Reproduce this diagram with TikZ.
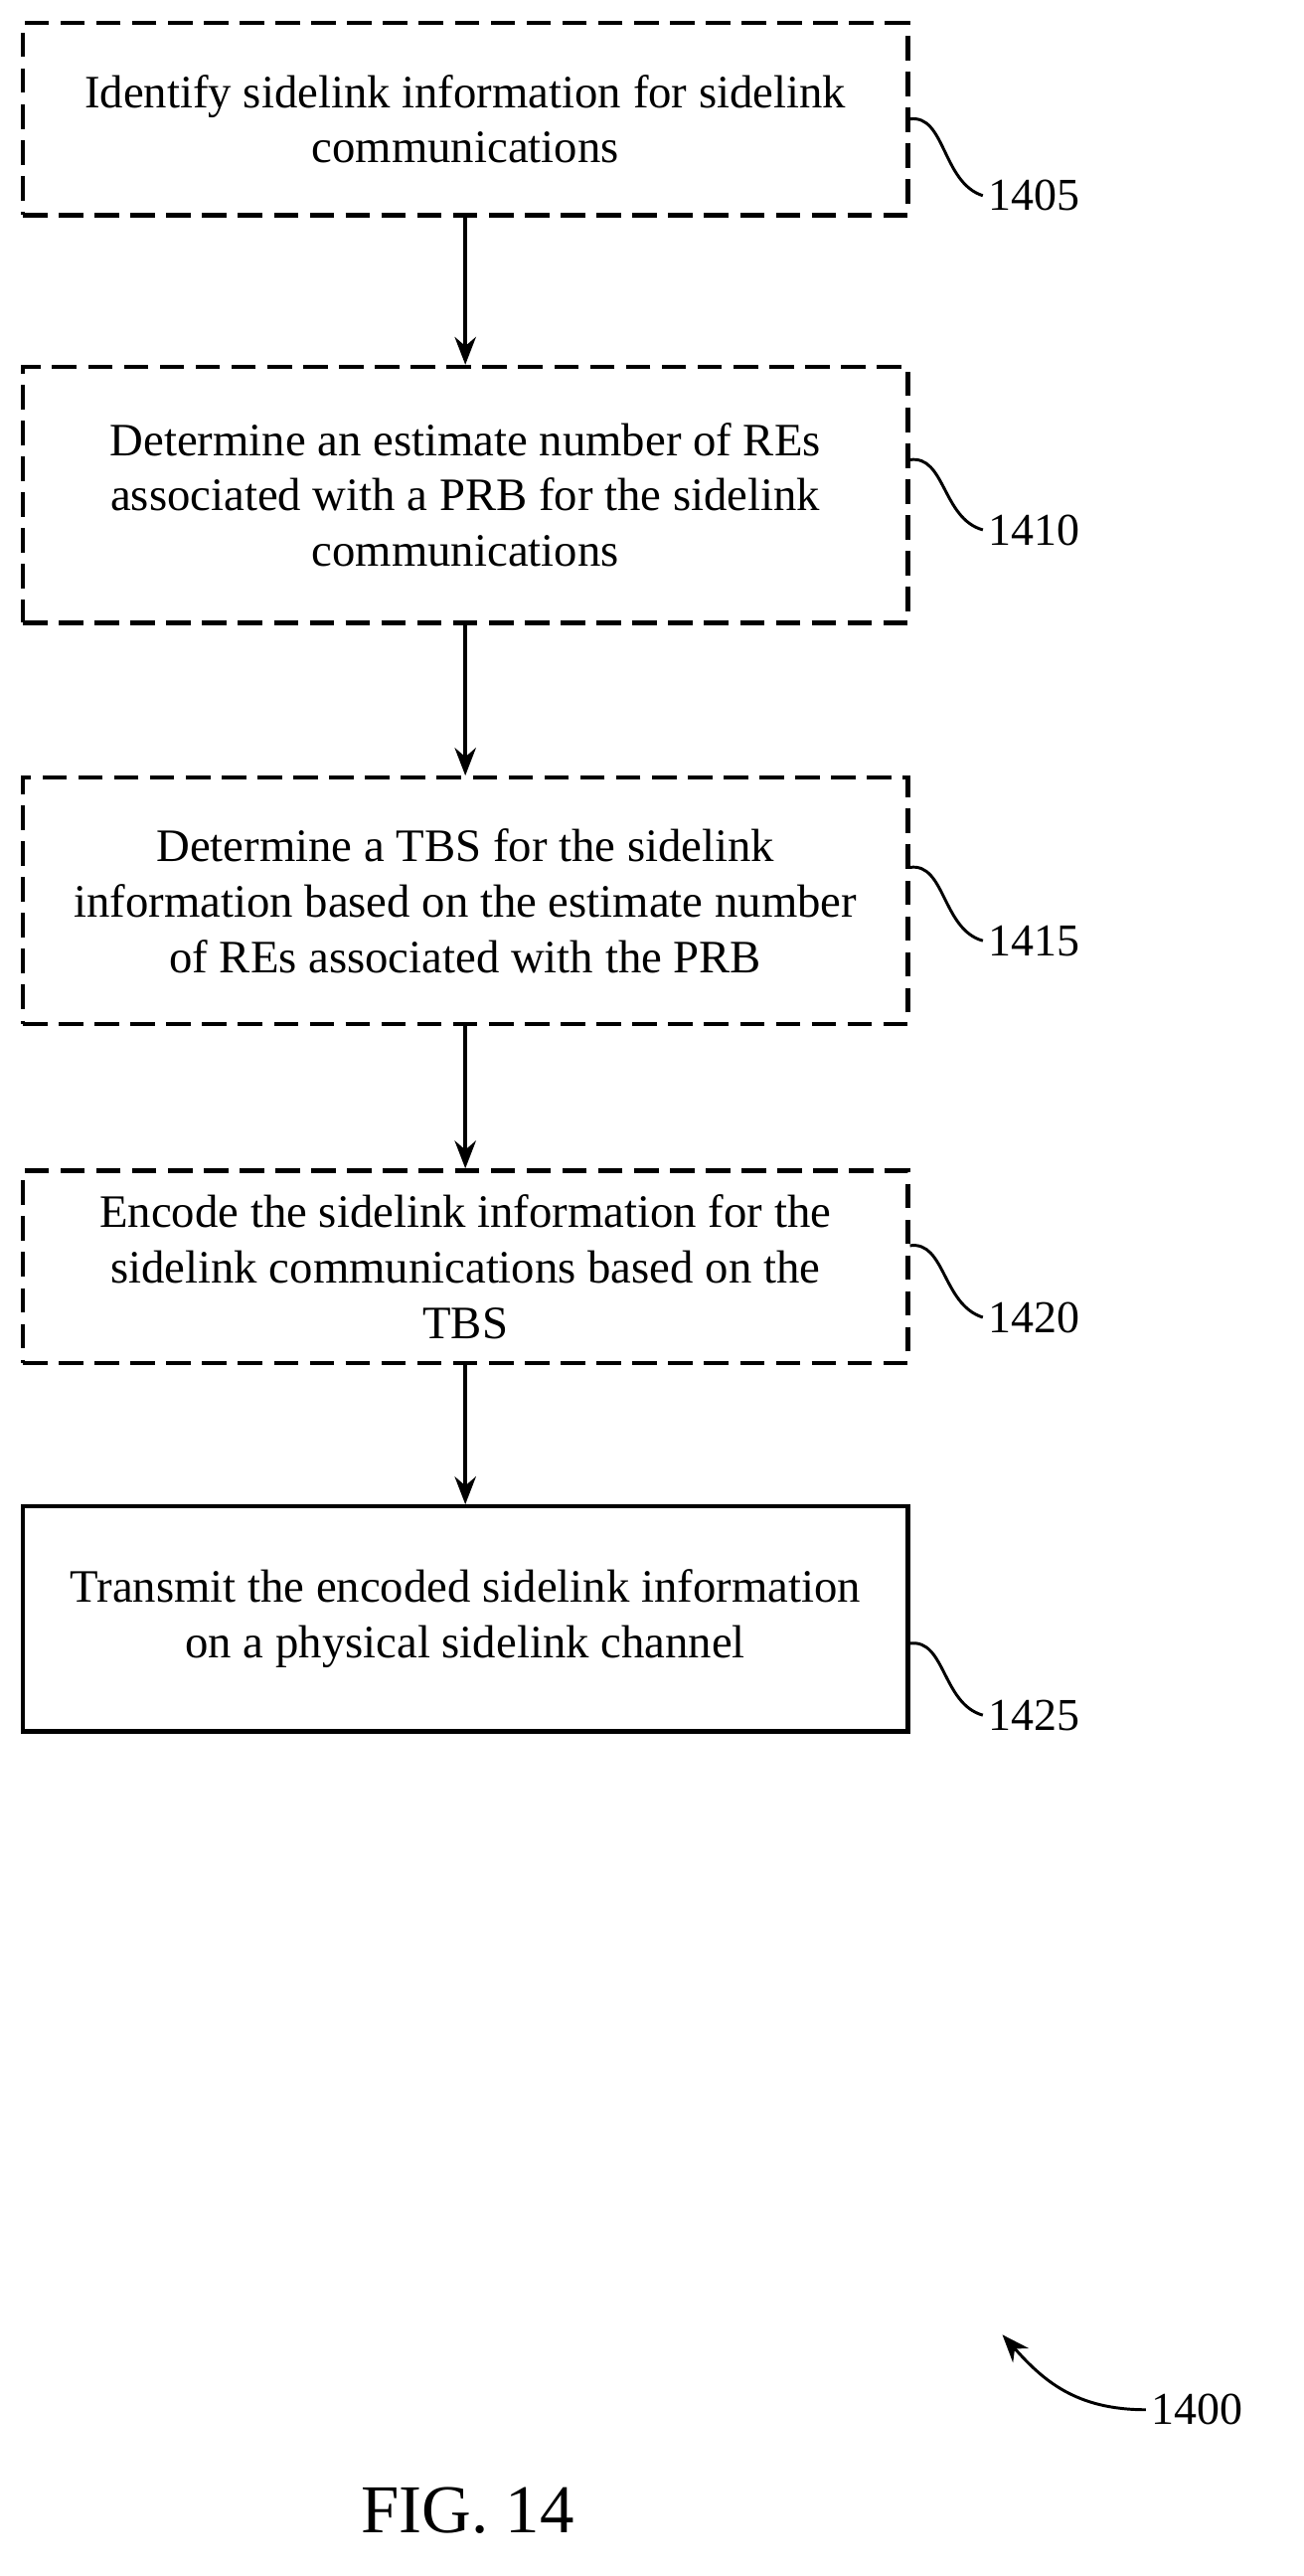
\documentclass[tikz,border=0pt]{standalone}
\usepackage{fontspec}
\setmainfont{Liberation Serif}
\usetikzlibrary{arrows.meta}
\begin{document}
\begin{tikzpicture}[x=1pt, y=-1pt,
    block/.style={draw, line width=2.6pt, dash pattern=on 15pt off 7pt, align=center, inner sep=0pt, minimum width=543pt, font=\fontsize{28.5}{34}\selectfont},
    solidblock/.style={block, solid},
    num/.style={anchor=west, font=\fontsize{28}{34}\selectfont},
    arr/.style={-{Stealth[length=17pt, width=13pt]}, line width=2.4pt},
    wig/.style={line width=1.8pt},
    ]
  \useasboundingbox (0,0) rectangle (800,1580);
  % boxes
  \node [block, minimum height=118pt] (s1) at (285.5,73) {Identify sidelink information for sidelink\\communications};
  \node [block, minimum height=157pt] (s2) at (285.5,303.5) {Determine an estimate number of REs\\associated with a PRB for the sidelink\\communications};
  \node [block, minimum height=151pt] (s3) at (285.5,552.5) {Determine a TBS for the sidelink\\information based on the estimate number\\of REs associated with the PRB};
  \node [block, minimum height=118pt] (s4) at (285.5,777) {Encode the sidelink information for the\\sidelink communications based on the\\TBS};
  \node [solidblock, minimum height=138pt] (s5) at (285.5,993) {Transmit the encoded sidelink information\\on a physical sidelink channel};
  % arrows
  \draw [arr] (s1) -- (s2);
  \draw [arr] (s2) -- (s3);
  \draw [arr] (s3) -- (s4);
  \draw [arr] (s4) -- (s5);
  % reference numbers
  \node [num] (n1) at (603,120) {1405};
  \node [num] (n2) at (603,325) {1410};
  \node [num] (n3) at (603,577) {1415};
  \node [num] (n4) at (603,808) {1420};
  \node [num] (n5) at (603,1052) {1425};
  \draw [wig] (s1.east |- 0,73) .. controls (580,70) and (578,112) .. (n1.west);
  \draw [wig] (s2.east |- 0,282) .. controls (580,279) and (578,318) .. (n2.west);
  \draw [wig] (s3.east |- 0,532) .. controls (580,529) and (578,570) .. (n3.west);
  \draw [wig] (s4.east |- 0,764) .. controls (580,761) and (578,800) .. (n4.west);
  \draw [wig] (s5.east |- 0,1008) .. controls (580,1005) and (578,1045) .. (n5.west);
  \node [num] (fig) at (703,1478) {1400};
  \coordinate (tip) at (615,1432);
  \draw [arr, line width=1.8pt] (fig.west) .. controls (660,1478) and (640,1460) .. (tip);
  \node [font=\fontsize{42}{50}\selectfont] (cap) at (287,1540) {FIG. 14};
\end{tikzpicture}
\end{document}
